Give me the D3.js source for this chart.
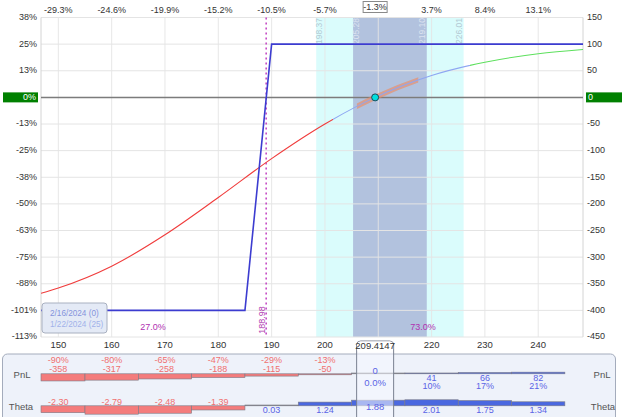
<!DOCTYPE html>
<html><head><meta charset="utf-8">
<script src="https://cdn.jsdelivr.net/npm/d3@7"></script>
<style>
html,body{margin:0;padding:0;background:#fff;}
svg{display:block;font-family:"Liberation Sans",Arial,sans-serif;}
</style></head>
<body><svg id="c" width="624" height="417"></svg>
<script>
// ---------- data ----------
const xTicks = [150,160,170,180,190,200,210,220,230,240];
const topPctLabels = ["-29.3%","-24.6%","-19.9%","-15.2%","-10.5%","-5.7%","","3.7%","8.4%","13.1%"];
const yTicks = [150,100,50,0,-50,-100,-150,-200,-250,-300,-350,-400,-450];
const leftPctLabels = ["38%","25%","13%","0%","-13%","-25%","-38%","-50%","-63%","-75%","-88%","-101%","-113%"];
const currentPrice = 209.4147;
const currentPctLabel = "-1.3%";
const expiryPrices = [146.75,185,190,248.4];
const expiryPnL = [-400,-400,100,100];
const t0Prices = [146.75,150,160,170,180,190,200,209.4147,220,230,240,248.4];
const t0PnL = [-368,-358,-317,-258,-188,-115,-50,0,41,66,82,90];
const breakEven = 188.98;
const outerBand = [198.37,226.01];
const innerBand = [205.28,219.10];
const orangeRange = [206,217.5];
const colorBreaks = [201.5,227.2];
const probLeft = "27.0%", probRight = "73.0%";
const legendDates = ["2/16/2024 (0)","1/22/2024 (25)"];
const tablePrices = [150,160,170,180,190,200,209.4147,220,230,240];
const pnlValues = [-358,-317,-258,-188,-115,-50,0,41,66,82];
const pnlPct = ["-90%","-80%","-65%","-47%","-29%","-13%","0.0%","10%","17%","21%"];
const thetaValues = [-2.30,-2.79,-2.48,-1.39,0.03,1.24,1.88,2.01,1.75,1.34];

// ---------- setup ----------
const svg = d3.select("#c");
const L = 41, R = 583, T = 17.5, B = 337;
const x = d3.scaleLinear().domain([146.75,248.4]).range([L,R]);
const y = d3.scaleLinear().domain([-450,150]).range([B,T]);
const ax = "#333";

// bands
svg.append("rect").attr("x",x(outerBand[0])).attr("y",T).attr("width",x(outerBand[1])-x(outerBand[0])).attr("height",B-T).attr("fill","#dafcfc");
svg.append("rect").attr("x",x(innerBand[0])).attr("y",T).attr("width",x(innerBand[1])-x(innerBand[0])).attr("height",B-T).attr("fill","#b2c2de");

// grid
const g = svg.append("g");
g.selectAll(".hg").data(yTicks).join("line").attr("x1",L).attr("x2",R).attr("y1",d=>y(d)).attr("y2",d=>y(d)).attr("stroke","#e4e4e4").attr("stroke-width",1);
g.selectAll(".vg").data(xTicks).join("line").attr("x1",d=>x(d)).attr("x2",d=>x(d)).attr("y1",T).attr("y2",B).attr("stroke","#e4e4e4").attr("stroke-width",1).attr("stroke-opacity",0.9);
svg.append("line").attr("x1",L).attr("x2",L).attr("y1",T).attr("y2",B).attr("stroke","#d4d4d4");
svg.append("line").attr("x1",R).attr("x2",R).attr("y1",T).attr("y2",B).attr("stroke","#d4d4d4");

// band labels
const bandLabels = [
  {v:outerBand[0], dx:4, c:"#b4cad4"},
  {v:innerBand[0], dx:4, c:"#dce3f0"},
  {v:innerBand[1], dx:-4, c:"#dce3f0"},
  {v:outerBand[1], dx:-4, c:"#b4cad4"}];
bandLabels.forEach(b=>{
  svg.append("text").attr("transform",`translate(${x(b.v)+b.dx},18) rotate(-90)`)
    .attr("text-anchor","end").attr("dominant-baseline","middle").attr("font-size",8.5)
    .attr("fill",b.c).text(b.v.toFixed(2));
});

// zero line
svg.append("line").attr("x1",L).attr("x2",R).attr("y1",y(0)).attr("y2",y(0)).attr("stroke","#7c7c7c").attr("stroke-width",1.5);

// breakeven dashed
svg.append("line").attr("x1",x(breakEven)).attr("x2",x(breakEven)).attr("y1",T).attr("y2",B)
  .attr("stroke","#c040c0").attr("stroke-width",1.5).attr("stroke-dasharray","2,3");
svg.append("text").attr("transform",`translate(${x(breakEven)-4},320) rotate(-90)`)
  .attr("text-anchor","middle").attr("dominant-baseline","middle").attr("font-size",9).attr("fill","#b040b0").text(breakEven.toFixed(2));

// clip paths
const defs = svg.append("defs");
function clip(id,a,b){
  defs.append("clipPath").attr("id",id).append("rect").attr("x",x(a)).attr("y",0).attr("width",x(b)-x(a)).attr("height",417);
}
clip("cRed",146.75,colorBreaks[0]);
clip("cBlue",colorBreaks[0],colorBreaks[1]);
clip("cGreen",colorBreaks[1],248.4);
clip("cOr",orangeRange[0],orangeRange[1]);

const t0 = t0Prices.map((p,i)=>[p,t0PnL[i]]);
const t0Line = d3.line().x(d=>x(d[0])).y(d=>y(d[1])).curve(d3.curveMonotoneX);
svg.append("path").attr("d",t0Line(t0)).attr("fill","none").attr("stroke","rgb(236,140,100)").attr("stroke-opacity",0.65).attr("stroke-width",5).attr("clip-path","url(#cOr)");
[["cRed","#f03c3c"],["cBlue","#8ea6f2"],["cGreen","#5ee05e"]].forEach(([id,c])=>{
  svg.append("path").attr("d",t0Line(t0)).attr("fill","none").attr("stroke",c).attr("stroke-width",1.1).attr("clip-path",`url(#${id})`);
});

// expiration line
const exp = expiryPrices.map((p,i)=>[p,expiryPnL[i]]);
svg.append("path").attr("d",d3.line().x(d=>x(d[0])).y(d=>y(d[1]))(exp)).attr("fill","none").attr("stroke","#3c3cd0").attr("stroke-width",1.6);

// current dot
svg.append("circle").attr("cx",x(currentPrice)).attr("cy",y(0)).attr("r",3.5).attr("fill","#00e0e0").attr("stroke","#1c4a5a").attr("stroke-width",1);

// prob labels
svg.append("text").attr("x",153).attr("y",330).attr("text-anchor","middle").attr("font-size",9).attr("fill","#b030b0").text(probLeft);
svg.append("text").attr("x",423).attr("y",330).attr("text-anchor","middle").attr("font-size",9).attr("fill","#b030b0").text(probRight);

// legend box
svg.append("rect").attr("x",42).attr("y",303).attr("width",65).attr("height",30).attr("rx",3).attr("fill","#e4eaf6").attr("stroke","#a8b0c0");
svg.append("text").attr("x",50).attr("y",316).attr("font-size",8.2).attr("fill","#8494dc").text(legendDates[0]);
svg.append("text").attr("x",50).attr("y",327).attr("font-size",8.2).attr("fill","#a2b2ea").text(legendDates[1]);

// left axis labels
svg.selectAll(".ll").data(yTicks).join("text").attr("x",37).attr("y",d=>y(d)).attr("text-anchor","end").attr("dominant-baseline","middle")
  .attr("font-size",9).attr("fill",ax).text((d,i)=>d===0?"":leftPctLabels[i]);
// right axis labels
svg.selectAll(".rl").data(yTicks).join("text").attr("x",587).attr("y",d=>y(d)).attr("dominant-baseline","middle")
  .attr("font-size",9).attr("fill",ax).text(d=>d===0?"":d);
// green zero boxes
svg.append("rect").attr("x",3).attr("y",y(0)-5).attr("width",35).attr("height",10).attr("fill","#008000");
svg.append("text").attr("x",36).attr("y",y(0)).attr("text-anchor","end").attr("dominant-baseline","middle").attr("font-size",9).attr("fill","#fff").text(leftPctLabels[3]);
svg.append("rect").attr("x",586).attr("y",y(0)-5).attr("width",36).attr("height",10).attr("fill","#008000");
svg.append("text").attr("x",588).attr("y",y(0)).attr("dominant-baseline","middle").attr("font-size",9).attr("fill","#fff").text("0");

// top axis labels
svg.selectAll(".tl").data(xTicks).join("text").attr("x",d=>x(d)).attr("y",11).attr("text-anchor","middle").attr("dominant-baseline","middle")
  .attr("font-size",9).attr("fill",ax).text((d,i)=>topPctLabels[i]);
svg.append("rect").attr("x",x(currentPrice)-12).attr("y",1.5).attr("width",24).attr("height",11).attr("fill","#fff").attr("stroke","#8a8a8a");
svg.append("text").attr("x",x(currentPrice)).attr("y",7.5).attr("text-anchor","middle").attr("dominant-baseline","middle").attr("font-size",9).attr("fill",ax).text(currentPctLabel);

// bottom axis labels
svg.selectAll(".bl").data(xTicks.filter(d=>d!==210)).join("text").attr("x",d=>x(d)).attr("y",345).attr("text-anchor","middle").attr("dominant-baseline","middle")
  .attr("font-size",9.5).attr("fill",ax).text(d=>d);

// ---------- bottom table ----------
svg.append("rect").attr("x",2.5).attr("y",354).attr("width",613).attr("height",70).attr("rx",5).attr("fill","#eef2fa").attr("stroke","#a4acbc");
svg.append("text").attr("x",22).attr("y",375).attr("text-anchor","middle").attr("dominant-baseline","middle").attr("font-size",9.5).attr("fill","#555").text("PnL");
svg.append("text").attr("x",21).attr("y",407).attr("text-anchor","middle").attr("dominant-baseline","middle").attr("font-size",9.5).attr("fill","#555").text("Theta");
svg.append("text").attr("x",602).attr("y",375).attr("text-anchor","middle").attr("dominant-baseline","middle").attr("font-size",9.5).attr("fill","#555").text("PnL");
svg.append("text").attr("x",603).attr("y",407).attr("text-anchor","middle").attr("dominant-baseline","middle").attr("font-size",9.5).attr("fill","#555").text("Theta");

const pnlBase = 373.8, thBase = 405.8;
const pnlH = d3.scaleLinear().domain([0,400]).range([0,8]);
const thH = d3.scaleLinear().domain([0,3]).range([0,9]);
const binEdge = (i,side)=>{
  const c = xTicks[i];
  return Math.max(146.75, Math.min(248.4, c + side*5));
};
const redFill="#f47c7c", blueFill="#4a68e0", redTxt="#f07070", blueTxt="#5a64e6";
tablePrices.forEach((p,i)=>{
  const x0 = x(binEdge(i,-1)), x1 = x(binEdge(i,1));
  const v = pnlValues[i];
  const h = Math.max(pnlH(Math.abs(v)), 0.8);
  svg.append("rect").attr("x",x0).attr("width",x1-x0).attr("y",v<0?pnlBase:pnlBase-h).attr("height",h)
    .attr("fill",v<0?redFill:(v>0?blueFill:"#999")).attr("stroke","#7a7a86").attr("stroke-width",0.6);
  const t = thetaValues[i];
  const th = Math.max(thH(Math.abs(t)), 0.8);
  svg.append("rect").attr("x",x0).attr("width",x1-x0).attr("y",t<0?thBase:thBase-th).attr("height",th)
    .attr("fill",t<0?redFill:(t>0.1?blueFill:"#999")).attr("stroke","#7a7a86").attr("stroke-width",0.6);
});
// center column highlight
const cxp = x(currentPrice);
svg.append("rect").attr("x",cxp-18.5).attr("y",341).attr("width",37).attr("height",80).attr("rx",4).attr("fill","#f6f8ff").attr("fill-opacity",0.55).attr("stroke","#7a8090");
svg.append("rect").attr("x",cxp-18).attr("y",341.5).attr("width",36).attr("height",11).attr("rx",3.5).attr("fill","#fff");
svg.append("text").attr("x",cxp).attr("y",346.5).attr("text-anchor","middle").attr("dominant-baseline","middle").attr("font-size",9.5).attr("fill",ax).text(currentPrice);

tablePrices.forEach((p,i)=>{
  const cx = x(p);
  const v = pnlValues[i], t = thetaValues[i];
  if (p===currentPrice){
    svg.append("text").attr("x",cx).attr("y",371).attr("text-anchor","middle").attr("dominant-baseline","middle").attr("font-size",9.5).attr("fill",blueTxt).text(v);
    svg.append("text").attr("x",cx).attr("y",383).attr("text-anchor","middle").attr("dominant-baseline","middle").attr("font-size",9.5).attr("fill",blueTxt).text(pnlPct[i]);
    svg.append("text").attr("x",cx).attr("y",407).attr("text-anchor","middle").attr("dominant-baseline","middle").attr("font-size",9.5).attr("fill",blueTxt).text(t.toFixed(2));
    return;
  }
  if (v<0){
    svg.append("text").attr("x",cx).attr("y",361).attr("text-anchor","middle").attr("dominant-baseline","middle").attr("font-size",9).attr("fill",redTxt).text(pnlPct[i]);
    svg.append("text").attr("x",cx).attr("y",370).attr("text-anchor","middle").attr("dominant-baseline","middle").attr("font-size",9).attr("fill",redTxt).text(v);
  } else {
    svg.append("text").attr("x",cx).attr("y",378.5).attr("text-anchor","middle").attr("dominant-baseline","middle").attr("font-size",9).attr("fill",blueTxt).text(v);
    svg.append("text").attr("x",cx).attr("y",387).attr("text-anchor","middle").attr("dominant-baseline","middle").attr("font-size",9).attr("fill",blueTxt).text(pnlPct[i]);
  }
  if (t<0){
    svg.append("text").attr("x",cx).attr("y",403).attr("text-anchor","middle").attr("dominant-baseline","middle").attr("font-size",9).attr("fill",redTxt).text(t.toFixed(2));
  } else {
    svg.append("text").attr("x",cx).attr("y",411).attr("text-anchor","middle").attr("dominant-baseline","middle").attr("font-size",9).attr("fill",blueTxt).text(t.toFixed(2));
  }
});
</script></body></html>
